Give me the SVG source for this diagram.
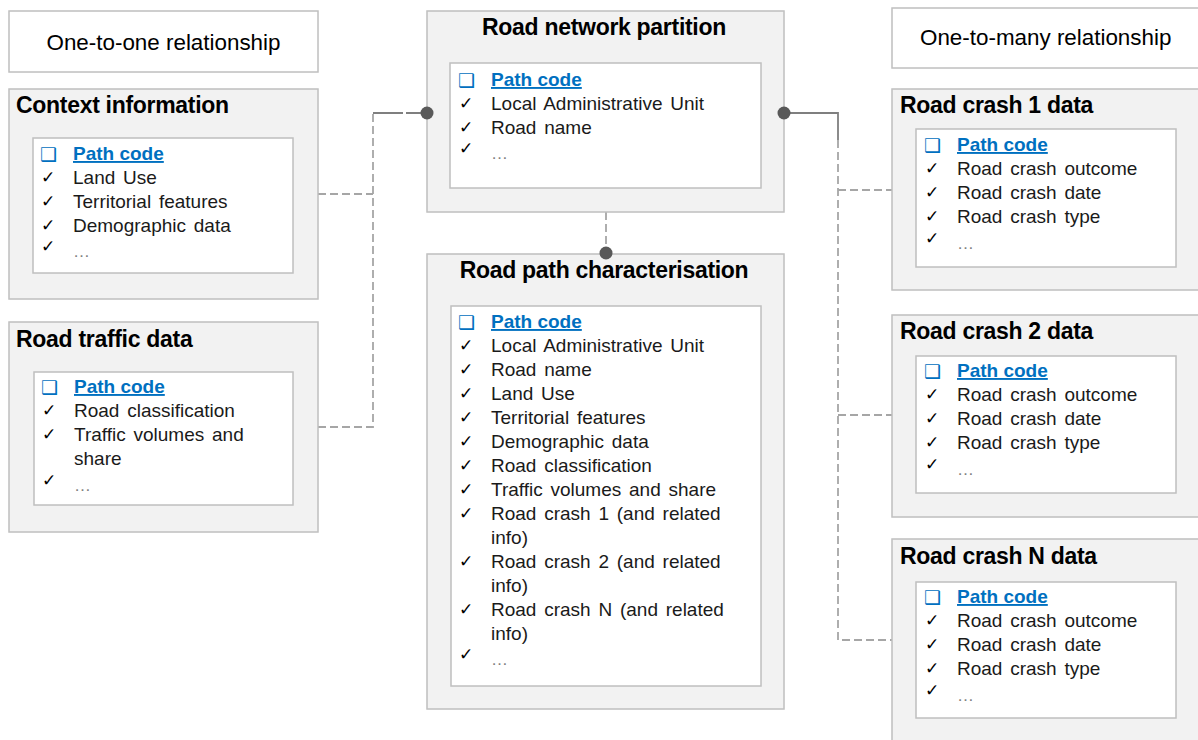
<svg xmlns="http://www.w3.org/2000/svg" width="1198" height="740" viewBox="0 0 1198 740">
<style>
.outer{fill:#f2f2f2;stroke:#bfbfbf;stroke-width:1.5}
.inner{fill:#fff;stroke:#bfbfbf;stroke-width:1.5}
.lbl{fill:#fff;stroke:#bfbfbf;stroke-width:1.5}
.lt{font-family:"Liberation Sans",Arial,sans-serif;font-size:22.4px;fill:#000}
.title{font-family:"Liberation Sans",Arial,sans-serif;font-size:23px;font-weight:bold;fill:#000;letter-spacing:-0.3px}
.t{font-family:"Liberation Sans",Arial,sans-serif;font-size:19px;fill:#1a1a1a;word-spacing:2.5px}
.pc{font-family:"Liberation Sans",Arial,sans-serif;font-size:19px;font-weight:bold;fill:#0070c0;text-decoration:underline}
.box{font-family:"DejaVu Sans",sans-serif;font-size:19px;fill:#0070c0}
.ck{font-family:"DejaVu Sans",sans-serif;font-size:17px;fill:#000}
.el{font-family:"Liberation Sans",Arial,sans-serif;font-size:17px;fill:#808080}
.dash{fill:none;stroke:#a6a6a6;stroke-width:1.8;stroke-dasharray:8,4}
.solid{fill:none;stroke:#7f7f7f;stroke-width:1.8}
.dot{fill:#595959}
</style>

<g id="connectors">
<path class="dash" d="M318,194 H373"/>
<path class="dash" d="M318,427 H373 V113"/>
<path class="solid" d="M373,113 H427" stroke-dasharray="30,3"/>
<path class="solid" d="M784,113 H838 V140"/>
<path class="dash" d="M838,140 V640 H892"/>
<path class="dash" d="M838,190 H892"/>
<path class="dash" d="M838,415 H892"/>
<path class="dash" d="M606,212 V253"/>
</g>

<g id="label-one-to-one">
<rect class="lbl" x="9" y="11" width="309" height="61"/>
<text class="lt" x="163.5" y="50" text-anchor="middle">One-to-one relationship</text>
</g>

<g id="label-one-to-many">
<rect class="lbl" x="892" y="8" width="310" height="60"/>
<text class="lt" x="920" y="45">One-to-many relationship</text>
</g>

<g id="context-information">
<rect class="outer" x="9" y="89" width="309" height="210"/>
<text class="title" x="16" y="113">Context information</text>
<rect class="inner" x="33" y="138" width="260" height="135"/>
<text class="box" x="40" y="161">❑</text><text class="pc" x="73" y="160">Path code</text>
<text class="ck" x="41" y="183">✓</text><text class="t" x="73" y="184">Land Use</text>
<text class="ck" x="41" y="207">✓</text><text class="t" x="73" y="208">Territorial features</text>
<text class="ck" x="41" y="231">✓</text><text class="t" x="73" y="232">Demographic data</text>
<text class="ck" x="41" y="252">✓</text><text class="el" x="73" y="257">…</text>
</g>

<g id="road-traffic-data">
<rect class="outer" x="9" y="322" width="309" height="210"/>
<text class="title" x="16" y="347">Road traffic data</text>
<rect class="inner" x="34" y="372" width="259" height="133"/>
<text class="box" x="41" y="394">❑</text><text class="pc" x="74" y="393">Path code</text>
<text class="ck" x="42" y="416">✓</text><text class="t" x="74" y="417">Road classification</text>
<text class="ck" x="42" y="440">✓</text><text class="t" x="74" y="441">Traffic volumes  and</text>
<text class="t" x="74" y="465">share</text>
<text class="ck" x="42" y="486">✓</text><text class="el" x="74" y="491">…</text>
</g>

<g id="road-network-partition">
<rect class="outer" x="427" y="11" width="357" height="201"/>
<text class="title" x="604" y="35" text-anchor="middle">Road network partition</text>
<rect class="inner" x="450" y="63" width="311" height="125"/>
<text class="box" x="458" y="87">❑</text><text class="pc" x="491" y="86">Path code</text>
<text class="ck" x="459" y="109">✓</text><text class="t" x="491" y="110">Local Administrative  Unit</text>
<text class="ck" x="459" y="133">✓</text><text class="t" x="491" y="134">Road  name</text>
<text class="ck" x="459" y="154">✓</text><text class="el" x="491" y="159">…</text>
</g>

<g id="road-path-characterisation">
<rect class="outer" x="427" y="254" width="357" height="455"/>
<text class="title" x="604" y="278" text-anchor="middle">Road path characterisation</text>
<rect class="inner" x="451" y="306" width="310" height="380"/>
<text class="box" x="458" y="329">❑</text><text class="pc" x="491" y="328">Path code</text>
<text class="ck" x="459" y="351">✓</text><text class="t" x="491" y="352">Local Administrative  Unit</text>
<text class="ck" x="459" y="375">✓</text><text class="t" x="491" y="376">Road  name</text>
<text class="ck" x="459" y="399">✓</text><text class="t" x="491" y="400">Land Use</text>
<text class="ck" x="459" y="423">✓</text><text class="t" x="491" y="424">Territorial features</text>
<text class="ck" x="459" y="447">✓</text><text class="t" x="491" y="448">Demographic  data</text>
<text class="ck" x="459" y="471">✓</text><text class="t" x="491" y="472">Road  classification</text>
<text class="ck" x="459" y="495">✓</text><text class="t" x="491" y="496">Traffic volumes  and share</text>
<text class="ck" x="459" y="519">✓</text><text class="t" x="491" y="520">Road  crash 1 (and related</text>
<text class="t" x="491" y="544">info)</text>
<text class="ck" x="459" y="567">✓</text><text class="t" x="491" y="568">Road  crash 2 (and related</text>
<text class="t" x="491" y="592">info)</text>
<text class="ck" x="459" y="615">✓</text><text class="t" x="491" y="616">Road  crash N (and related</text>
<text class="t" x="491" y="640">info)</text>
<text class="ck" x="459" y="660">✓</text><text class="el" x="491" y="665">…</text>
</g>

<g id="road-crash-1-data">
<rect class="outer" x="892" y="89" width="310" height="201"/>
<text class="title" x="900" y="113">Road crash 1 data</text>
<rect class="inner" x="916" y="129" width="260" height="138"/>
<text class="box" x="924" y="152">❑</text><text class="pc" x="957" y="151">Path code</text>
<text class="ck" x="925" y="174">✓</text><text class="t" x="957" y="175">Road  crash outcome</text>
<text class="ck" x="925" y="198">✓</text><text class="t" x="957" y="199">Road  crash date</text>
<text class="ck" x="925" y="222">✓</text><text class="t" x="957" y="223">Road  crash type</text>
<text class="ck" x="925" y="244">✓</text><text class="el" x="957" y="249">…</text>
</g>

<g id="road-crash-2-data">
<rect class="outer" x="892" y="315" width="310" height="202"/>
<text class="title" x="900" y="339">Road crash 2 data</text>
<rect class="inner" x="916" y="356" width="260" height="137"/>
<text class="box" x="924" y="378">❑</text><text class="pc" x="957" y="377">Path code</text>
<text class="ck" x="925" y="400">✓</text><text class="t" x="957" y="401">Road  crash outcome</text>
<text class="ck" x="925" y="424">✓</text><text class="t" x="957" y="425">Road  crash date</text>
<text class="ck" x="925" y="448">✓</text><text class="t" x="957" y="449">Road  crash type</text>
<text class="ck" x="925" y="470">✓</text><text class="el" x="957" y="475">…</text>
</g>

<g id="road-crash-n-data">
<rect class="outer" x="892" y="539" width="310" height="215"/>
<text class="title" x="900" y="564">Road crash N data</text>
<rect class="inner" x="916" y="582" width="260" height="136"/>
<text class="box" x="924" y="604">❑</text><text class="pc" x="957" y="603">Path code</text>
<text class="ck" x="925" y="626">✓</text><text class="t" x="957" y="627">Road  crash outcome</text>
<text class="ck" x="925" y="650">✓</text><text class="t" x="957" y="651">Road  crash date</text>
<text class="ck" x="925" y="674">✓</text><text class="t" x="957" y="675">Road  crash type</text>
<text class="ck" x="925" y="696">✓</text><text class="el" x="957" y="701">…</text>
</g>

<g id="connector-dots">
<circle class="dot" cx="427" cy="113" r="6.5"/>
<circle class="dot" cx="784" cy="113" r="6.5"/>
<circle class="dot" cx="606" cy="253" r="6.5"/>
</g>
</svg>
